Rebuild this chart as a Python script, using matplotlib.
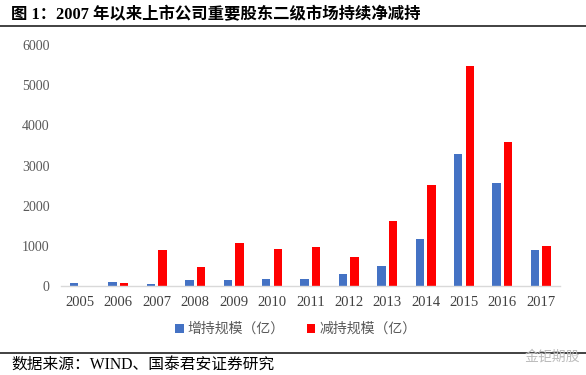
import matplotlib
matplotlib.use("Agg")
import matplotlib.pyplot as plt
import numpy as np

years = ["2005", "2006", "2007", "2008", "2009", "2010", "2011", "2012",
         "2013", "2014", "2015", "2016", "2017"]
increase = [75, 110, 40, 140, 140, 165, 165, 310, 500, 1165, 3280, 2555, 900]
decrease = [0, 65, 900, 480, 1070, 915, 960, 720, 1620, 2515, 5485, 3590, 1000]
yticks = [0, 1000, 2000, 3000, 4000, 5000, 6000]

title = "图 1：2007 年以来上市公司重要股东二级市场持续净减持"
source = "数据来源：WIND、国泰君安证券研究"
legend_labels = ["增持规模（亿）", "减持规模（亿）"]

CJK = ["Liberation Serif", "Noto Sans CJK SC"]
CJK_SANS = ["Noto Sans CJK SC", "DejaVu Sans"]

fig = plt.figure(figsize=(5.86, 3.75), dpi=100)
ax = fig.add_axes([0.1037, 0.2373, 0.9556 - 0.1037, 0.88 - 0.2373])

x = np.arange(len(years))
w = 0.22
off = 0.15
b1 = ax.bar(x - off, increase, width=w, color="#4472C4", label=legend_labels[0])
b2 = ax.bar(x + off, decrease, width=w, color="#FF0000", label=legend_labels[1])

ax.set_xlim(-0.5, len(years) - 0.5)
ax.set_ylim(0, 6000)
ax.set_yticks(yticks)
ax.set_yticklabels([str(v) for v in yticks], family="Liberation Serif",
                   fontsize=10, color="#595959")
ax.set_xticks(x)
ax.set_xticklabels(years, family="Liberation Serif", fontsize=10.5, color="#404040")
ax.tick_params(axis="both", length=0)
ax.tick_params(axis="y", pad=8)
ax.tick_params(axis="x", pad=7)
for s in ["top", "right", "left"]:
    ax.spines[s].set_visible(False)
ax.spines["bottom"].set_color("#D9D9D9")
ax.spines["bottom"].set_linewidth(1.0)

leg = fig.legend(handles=[b1, b2], labels=legend_labels, loc="center",
                 bbox_to_anchor=(0.505, 1 - 329 / 375), ncol=2, frameon=False,
                 prop={"family": CJK_SANS, "size": 10}, handlelength=0.6,
                 handleheight=0.6, handletextpad=0.3, columnspacing=1.6)
for t in leg.get_texts():
    t.set_color("#595959")

fig.text(0.018, 1 - 15 / 375, title, family=CJK, fontweight="bold",
         fontsize=11.8, va="center", ha="left", color="#000000")
fig.add_artist(plt.Line2D([0, 1], [1 - 26 / 375, 1 - 26 / 375],
                          transform=fig.transFigure, color="#333333", lw=1.3))
fig.add_artist(plt.Line2D([0, 1], [1 - 353 / 375, 1 - 353 / 375],
                          transform=fig.transFigure, color="#333333", lw=1.3))
fig.text(0.02, 1 - 365 / 375, source, family=CJK, fontsize=11.3,
         va="center", ha="left", color="#000000")
fig.text(0.99, 1 - 357 / 375, "金钜期股", family=CJK_SANS, fontsize=10,
         va="center", ha="right", color="#BBBBBB")

fig.savefig("out.png", dpi=100)
